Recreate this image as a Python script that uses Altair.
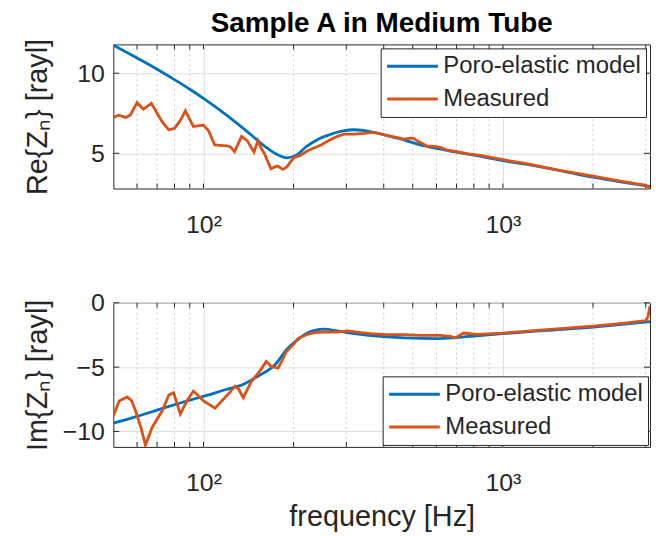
import altair as alt
import pandas as pd

SERIES = ["Poro-elastic model", "Measured"]
COLORS = ["#0072BD", "#D95319"]

# ---- Re{Z_n} ----
re_model_f = [50, 60, 70, 80, 90, 100, 120, 140, 160, 175, 190, 205, 220, 240, 260,
              290, 320, 360, 410, 470, 530, 600, 700, 820, 1000, 1300, 1600, 2000, 2500, 3100]
re_model_v = [11.75, 10.95, 10.25, 9.6, 9.0, 8.43, 7.35, 6.35, 5.45, 4.95, 4.72, 4.9, 5.4, 5.85, 6.12,
              6.38, 6.47, 6.36, 6.1, 5.82, 5.52, 5.3, 5.07, 4.85, 4.54, 4.2, 3.87, 3.51, 3.2, 2.93]

re_meas_f = [50, 52, 55, 57, 60, 63, 67, 70, 73, 76.5, 80, 84, 87, 92.5, 100, 104, 109, 114,
             119.5, 123, 127, 134, 140, 147.5, 152, 156, 160, 168, 173, 177, 184, 190, 195, 201,
             210, 223, 235, 247, 262, 280, 295, 320, 344, 371, 390, 411, 440, 467, 490, 504,
             520, 540, 558, 580, 618, 650, 702, 767, 850, 1000, 1200, 1500, 2000, 2500, 3000, 3100]
re_meas_v = [7.24, 7.38, 7.24, 7.4, 8.16, 7.75, 8.12, 7.5, 6.93, 6.47, 6.55, 7.1, 7.65, 6.68, 6.76, 6.4, 5.52, 5.5,
             5.47, 5.4, 5.1, 6.06, 5.79, 5.07, 5.79, 5.3, 4.96, 4.03, 4.15, 4.2, 3.99, 4.15, 4.45, 4.75,
             4.85, 5.16, 5.35, 5.52, 5.8, 6.06, 6.2, 6.2, 6.24, 6.3, 6.22, 6.1, 6.0, 5.89, 5.95, 5.93,
             5.75, 5.6, 5.44, 5.45, 5.37, 5.2, 5.1, 4.96, 4.85, 4.6, 4.35, 3.98, 3.58, 3.25, 3.0, 2.82]

# ---- Im{Z_n} ----
im_model_f = [50, 60, 70, 80, 90, 100, 120, 134, 152, 173, 191, 207, 220, 235, 253, 280, 319,
              411, 530, 603, 700, 818, 1000, 1400, 2000, 2500, 3100]
im_model_v = [-9.36, -8.83, -8.34, -7.92, -7.57, -7.27, -6.72, -6.4, -5.71, -4.83, -3.55, -2.85, -2.4,
              -2.15, -2.05, -2.18, -2.4, -2.65, -2.77, -2.78, -2.7, -2.57, -2.4, -2.15, -1.89, -1.68, -1.46]

im_meas_f = [50, 52.3, 55.6, 57.5, 59.3, 62, 64, 67.4, 72.8, 76.6, 79.5, 83.7, 88, 92.6, 96, 100,
             109.3, 116.5, 122, 127.4, 131, 135.8, 144.6, 154, 162, 168.5, 177.4, 183, 189, 198.9,
             206.7, 212, 223, 235, 253, 280, 303, 330, 362, 411, 467, 530, 618, 670, 693, 739, 818,
             1000, 1400, 2000, 2500, 3000, 3050, 3100]
im_meas_v = [-8.77, -7.63, -7.32, -7.6, -8.39, -9.8, -11.07, -9.67, -8.39, -7.17, -6.99, -8.65, -7.63,
             -6.86, -7.2, -7.63, -8.19, -7.5, -7.0, -6.48, -6.7, -7.37, -6.1, -5.33, -4.56, -4.95, -5.08,
             -4.5, -3.8, -3.29, -2.78, -2.65, -2.45, -2.32, -2.27, -2.27, -2.19, -2.3, -2.4, -2.47, -2.47,
             -2.53, -2.53, -2.6, -2.73, -2.35, -2.45, -2.35, -2.08, -1.82, -1.6, -1.38, -1.1, -0.25]

x_major = [100, 1000]
x_minor = [60, 70, 80, 90, 200, 300, 400, 500, 600, 700, 800, 900, 2000, 3000]
x_domain = [50, 3100]
re_ticks = [5, 10]
im_ticks = [-10, -5, 0]
re_domain = [2.8, 11.8]
im_domain = [-11.2, 0]

W, H = 540, 145
FONT = "Liberation Sans"
AX = "#262626"
GRID = "#dedede"


def make_df(f, v, name):
    return pd.DataFrame({"freq": f, "val": v, "series": name})


def panel(mf, mv, ef, ev, ydomain, yticks, ytitle, lorient, loffset, xtitle=None):
    xscale = alt.Scale(type="log", domain=x_domain, nice=False)
    xkw = dict(values=x_major, labelExpr="datum.value == 100 ? '10²' : '10³'",
               grid=True, gridColor=GRID, gridWidth=1, ticks=False, tickSize=0, domain=False,
               labelFontSize=25, labelPadding=24, labelColor=AX, labelFont=FONT)
    if xtitle:
        xkw.update(title=xtitle, titleFontSize=29, titleFontWeight="normal", titleColor=AX,
                   titleFont=FONT, titleY=79, titleBaseline="alphabetic")
    else:
        xkw.update(title=None)
    X = alt.X("freq:Q", scale=xscale, axis=alt.Axis(**xkw))
    Y = alt.Y("val:Q", scale=alt.Scale(domain=ydomain, nice=False, zero=False),
              axis=alt.Axis(values=yticks, grid=True, gridColor=GRID, gridWidth=1, ticks=False,
                            tickSize=0, domain=False, labelFontSize=25, labelPadding=9,
                            labelColor=AX, labelFont=FONT, title=ytitle, titleFontSize=29,
                            titleFontWeight="normal", titleColor=AX, titleFont=FONT,
                            titleX=-61, titleAngle=270, titleBaseline="bottom"))
    color = alt.Color("series:N", scale=alt.Scale(domain=SERIES, range=COLORS),
                      legend=alt.Legend(title=None, orient=lorient, offset=loffset,
                                        fillColor="white", strokeColor=AX, padding=5,
                                        symbolType="stroke", symbolStrokeWidth=3,
                                        symbolSize=2600, clipHeight=26, labelFontSize=24,
                                        labelFont=FONT, labelColor=AX, labelOffset=4,
                                        labelLimit=400, rowPadding=7))

    minor = alt.Chart(pd.DataFrame({"freq": x_minor})).mark_rule(
        color="#cdcdcd", strokeDash=[2, 3], strokeWidth=1).encode(x=X)
    xt = pd.DataFrame({"freq": x_major + x_minor})
    tick_b = alt.Chart(xt).mark_rule(color=AX, strokeWidth=1).encode(
        x=X, y=alt.value(H - 5), y2=alt.value(H))
    tick_t = alt.Chart(xt).mark_rule(color=AX, strokeWidth=1).encode(
        x=X, y=alt.value(0), y2=alt.value(5))
    yt = pd.DataFrame({"val": yticks})
    tick_l = alt.Chart(yt).mark_rule(color=AX, strokeWidth=1).encode(
        y=Y, x=alt.value(0), x2=alt.value(6))
    tick_r = alt.Chart(yt).mark_rule(color=AX, strokeWidth=1).encode(
        y=Y, x=alt.value(W - 6), x2=alt.value(W))
    model = alt.Chart(make_df(mf, mv, SERIES[0])).mark_line(
        strokeWidth=2.8, clip=True, interpolate="monotone").encode(x=X, y=Y, color=color)
    meas = alt.Chart(make_df(ef, ev, SERIES[1])).mark_line(
        strokeWidth=2.8, clip=True).encode(x=X, y=Y, color=color)
    return alt.layer(minor, tick_b, tick_t, tick_l, tick_r, model, meas).properties(
        width=W, height=H)


top = panel(re_model_f, re_model_v, re_meas_f, re_meas_v, re_domain, re_ticks,
            "Re{Zₙ} [rayl]", "top-right", 4).properties(
    title=alt.TitleParams("Sample A in Medium Tube", fontSize=28, fontWeight="bold",
                          anchor="middle", frame="group", offset=0, color="black", font=FONT))
bottom = panel(im_model_f, im_model_v, im_meas_f, im_meas_v, im_domain, im_ticks,
               "Im{Zₙ} [rayl]", "bottom-right", 2, xtitle="frequency [Hz]")

chart = alt.vconcat(top, bottom, spacing=52).resolve_scale(color="independent").resolve_legend(
    color="independent").properties(
    padding={"left": 15, "top": 0, "right": 0, "bottom": 0}
).configure(font=FONT).configure_view(stroke=AX, strokeWidth=1)

chart.save("out.html", embed_options={"renderer": "svg", "actions": False})
